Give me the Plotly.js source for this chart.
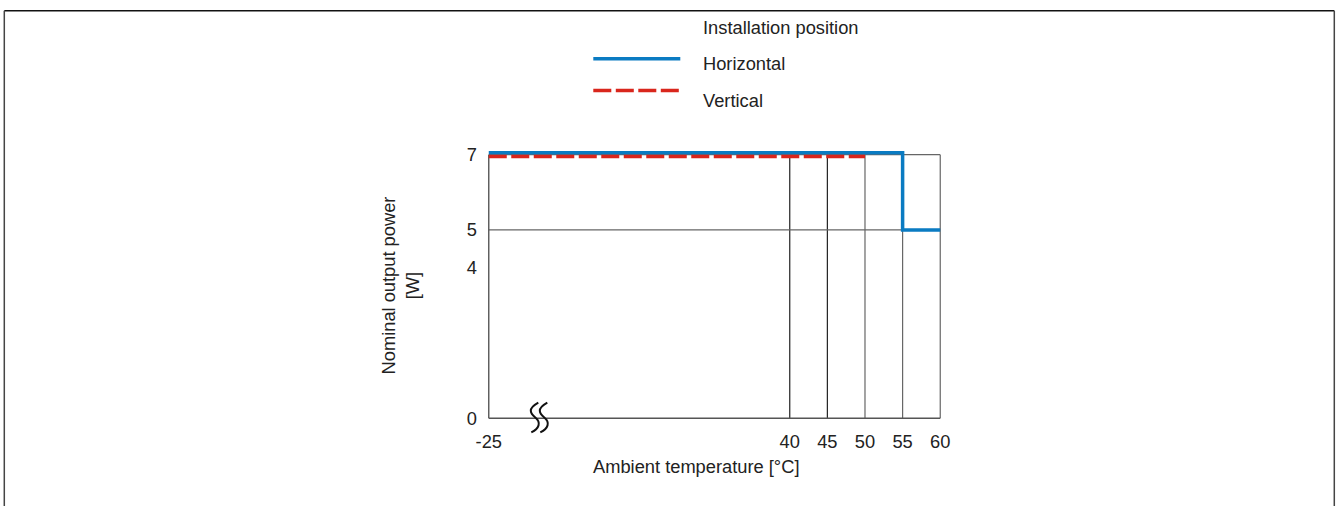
<!DOCTYPE html>
<html>
<head>
<meta charset="utf-8">
<script src="https://cdn.plot.ly/plotly-3.0.1.min.js"></script>
<style>html,body{margin:0;padding:0;background:#fff;}#chart{width:1336px;height:506px;}</style>
</head>
<body>
<div id="chart"></div>
<script>
// ---- data ----
const tickTemps = [-25, 40, 45, 50, 55, 60];
const tickTempLabels = ["-25", "40", "45", "50", "55", "60"];
const powerTicks = [0, 4, 5, 7];
const horizontalTemp = [-25, 55, 55, 60];
const horizontalPower = [7.05, 7.05, 5, 5];
const verticalTemp = [-25, 50];
const verticalPower = [6.95, 6.95];
const gridTemps = [40, 45, 50, 55, 60];
const gridPowers = [5, 7];
const legendTitle = "Installation position";
const seriesNames = ["Horizontal", "Vertical"];

// broken axis: -25..40 compressed
function brk(t) { return t <= 40 ? (t + 25) * 40 / 65 : t; }

const W = 1336, H = 506;
const M = {l: 484.7, r: 392.3, t: 148.6, b: 83.5};
const pw = W - M.l - M.r, ph = H - M.t - M.b;
const px = x => (x - M.l) / pw;
const py = y => (H - M.b - y) / ph;

const FONT = "Liberation Sans, Arial, sans-serif";
const FS = 18.3;
const TXT = "#222";
const BLUE = "#0a7bc2", RED = "#d9261c";

const traces = [
  {x: horizontalTemp.map(brk), y: horizontalPower, mode: "lines", name: seriesNames[0],
   line: {color: BLUE, width: 3.5}, hoverinfo: "skip", cliponaxis: false},
  {x: verticalTemp.map(brk), y: verticalPower, mode: "lines", name: seriesNames[1],
   line: {color: RED, width: 3.5, dash: "18px,4.5px"}, hoverinfo: "skip", cliponaxis: false}
];

const shapes = [];
gridTemps.forEach(t => {
  shapes.push({type: "line", xref: "x", yref: "y", x0: brk(t), x1: brk(t), y0: 0, y1: 7,
    line: {color: (t === 40 || t === 45) ? "#222" : "#666", width: 1.2}, layer: "below"});
});
gridPowers.forEach(p => {
  shapes.push({type: "line", xref: "x", yref: "y", x0: brk(-25), x1: brk(60), y0: p, y1: p,
    line: {color: "#666", width: 1.2}, layer: "below"});
});
shapes.push({type: "line", xref: "x", yref: "y", x0: brk(-25), x1: brk(-25), y0: 0, y1: 7,
  line: {color: "#555", width: 1.4}, layer: "below"});
shapes.push({type: "line", xref: "x", yref: "y", x0: brk(-25), x1: brk(60), y0: 0, y1: 0,
  line: {color: "#555", width: 1.4}, layer: "below"});
function sq(dx) {
  const p = (x, y) => px(x + dx) + "," + py(y);
  return "M" + p(538, 403) + " C" + p(527, 409) + " " + p(530, 414) + " " + p(535, 418) +
         " C" + p(541, 423) + " " + p(539, 429) + " " + p(531, 433);
}
[0, 9].forEach(dx => shapes.push({type: "path", xref: "paper", yref: "paper", path: sq(dx),
  line: {color: "#111", width: 2}}));
shapes.push({type: "line", xref: "paper", yref: "paper", x0: px(4), x1: px(1334), y0: py(10), y1: py(10), line: {color: "#111", width: 1.5}});
shapes.push({type: "line", xref: "paper", yref: "paper", x0: px(4), x1: px(4), y0: py(10), y1: py(520), line: {color: "#444", width: 1.5}});
shapes.push({type: "line", xref: "paper", yref: "paper", x0: px(1334), x1: px(1334), y0: py(10), y1: py(520), line: {color: "#444", width: 1.5}});
shapes.push({type: "line", xref: "paper", yref: "paper", x0: px(593), x1: px(680), y0: py(58), y1: py(58), line: {color: BLUE, width: 3.5}});
shapes.push({type: "line", xref: "paper", yref: "paper", x0: px(593), x1: px(680), y0: py(90), y1: py(90), line: {color: RED, width: 3.5, dash: "18px,4.5px"}});

const annotations = [
  {xref: "paper", yref: "paper", x: px(701), y: py(27), text: legendTitle, showarrow: false, xanchor: "left", yanchor: "middle", font: {family: FONT, size: FS, color: TXT}},
  {xref: "paper", yref: "paper", x: px(701), y: py(63), text: seriesNames[0], showarrow: false, xanchor: "left", yanchor: "middle", font: {family: FONT, size: FS, color: TXT}},
  {xref: "paper", yref: "paper", x: px(701), y: py(100), text: seriesNames[1], showarrow: false, xanchor: "left", yanchor: "middle", font: {family: FONT, size: FS, color: TXT}},
  {xref: "paper", yref: "paper", x: px(696), y: py(467), text: "Ambient temperature [°C]", showarrow: false, xanchor: "center", yanchor: "middle", font: {family: FONT, size: FS, color: TXT}}
];

const layout = {
  width: W, height: H,
  margin: M,
  paper_bgcolor: "#fff", plot_bgcolor: "#fff",
  showlegend: false,
  font: {family: FONT, size: FS, color: TXT},
  xaxis: {range: [-0.5, 60.5], tickvals: tickTemps.map(brk), ticktext: tickTempLabels,
    showgrid: false, zeroline: false, showline: false, ticks: "", ticklabelstandoff: 7, fixedrange: true},
  yaxis: {range: [-0.1, 7.15], tickvals: powerTicks, ticktext: powerTicks.map(String),
    showgrid: false, zeroline: false, showline: false, ticks: "", ticklabelstandoff: 7, fixedrange: true,
    title: {text: "Nominal output power<br>[W]", standoff: 42, font: {family: FONT, size: FS, color: TXT}}},
  shapes: shapes,
  annotations: annotations
};

Plotly.newPlot("chart", traces, layout, {staticPlot: true, displayModeBar: false});
</script>
</body>
</html>
